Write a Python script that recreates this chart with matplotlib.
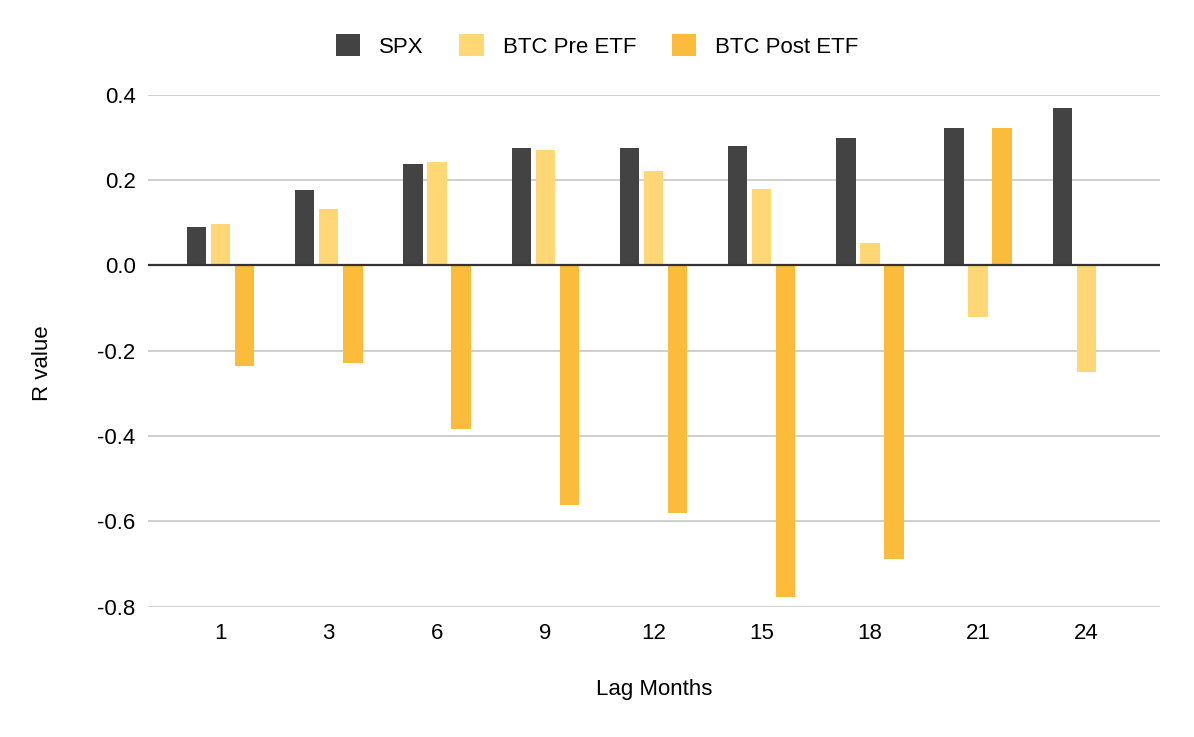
import numpy as np
from matplotlib import pyplot as plt
from matplotlib.patches import Patch

# Lag months and R values
lagMonths = ["1", "3", "6", "9", "12", "15", "18", "21", "24"]
spx = [0.091, 0.176, 0.237, 0.275, 0.275, 0.279, 0.298, 0.322, 0.369]
btcPre = [0.096, 0.133, 0.242, 0.270, 0.222, 0.180, 0.053, -0.121, -0.251]
btcPost = [-0.237, -0.228, -0.383, -0.562, -0.580, -0.778, -0.689, 0.322, np.nan]

seriesNames = ["SPX", "BTC Pre ETF", "BTC Post ETF"]
colors = ["#434343", "#FFD774", "#FBBC3B"]
yTicks = [-0.8, -0.6, -0.4, -0.2, 0.0, 0.2, 0.4]
yTickLabels = ["-0.8", "-0.6", "-0.4", "-0.2", "0.0", "0.2", "0.4"]

plt.rcParams['font.family'] = ['Liberation Sans', 'DejaVu Sans']
fs = 16

fig = plt.figure(figsize=(11.94, 7.37), dpi=100)
ax = fig.add_axes([0.124, 0.1768, 0.8475, 0.6947])

ind = np.arange(len(lagMonths))
width = 0.179
pitch = 0.222

for k, values in enumerate([spx, btcPre, btcPost]):
    ax.bar(ind + (k - 1) * pitch, values, width, color=colors[k], zorder=3)

ax.set_xlim(-0.67, len(lagMonths) - 1 + 0.68)
ax.set_ylim(-0.8, 0.4)
ax.set_yticks(yTicks)
ax.set_yticklabels(yTickLabels)
ax.set_xticks(ind)
ax.set_xticklabels(lagMonths)

ax.yaxis.grid(True, color="#CCCCCC", linewidth=1.3, zorder=0)
ax.axhline(0, color="#333333", linewidth=1.6, zorder=4)
for side in ["top", "right", "left", "bottom"]:
    ax.spines[side].set_visible(False)
ax.tick_params(axis="both", length=0, labelsize=fs, colors="#000000")
ax.tick_params(axis="y", pad=9)
ax.tick_params(axis="x", pad=12)

fig.text(0.5477, 1 - 690 / 737, "Lag Months", ha="center", va="center", fontsize=fs)
fig.text(43 / 1194, 1 - 363 / 737, "R value", ha="center", va="center",
         rotation=90, fontsize=fs)

handles = [Patch(facecolor=c, edgecolor="none") for c in colors]
fig.legend(handles, seriesNames, loc="center", bbox_to_anchor=(0.5, 1 - 46 / 737),
           ncol=3, frameon=False, fontsize=fs, handlelength=1.1, handleheight=1.1,
           handletextpad=0.85, columnspacing=1.6)

plt.savefig("out.png", dpi=100)
